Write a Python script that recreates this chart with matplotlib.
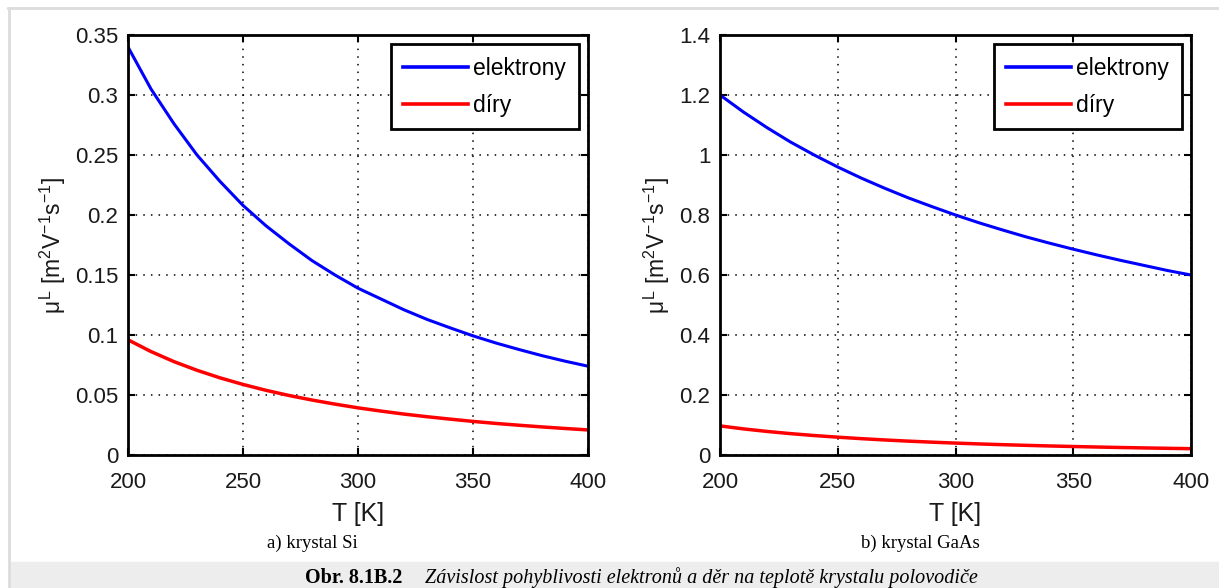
import matplotlib
matplotlib.use("Agg")
import matplotlib.pyplot as plt
from matplotlib.patches import Rectangle
from matplotlib.lines import Line2D

plt.rcParams['font.family'] = ['Liberation Sans', 'DejaVu Sans']
plt.rcParams['mathtext.fontset'] = 'custom'
plt.rcParams['mathtext.rm'] = 'Liberation Sans'
plt.rcParams['mathtext.it'] = 'Liberation Sans'

# teplota [K]
T = [200, 210, 220, 230, 240, 250, 260, 270, 280, 290, 300,
     310, 320, 330, 340, 350, 360, 370, 380, 390, 400]

# krystal Si
si_elektrony = [0.340, 0.305, 0.276, 0.250, 0.228, 0.208, 0.191, 0.176, 0.162, 0.150, 0.139,
                0.130, 0.121, 0.113, 0.106, 0.0993, 0.0933, 0.0879, 0.0828, 0.0782, 0.0740]
si_diry = [0.096, 0.0862, 0.0778, 0.0706, 0.0643, 0.0588, 0.0539, 0.0496, 0.0458, 0.0424, 0.0393,
           0.0366, 0.0341, 0.0319, 0.0299, 0.0280, 0.0263, 0.0248, 0.0234, 0.0221, 0.0209]

# krystal GaAs
gaas_elektrony = [1.200, 1.143, 1.091, 1.043, 1.000, 0.960, 0.923, 0.889, 0.857, 0.828, 0.800,
                  0.774, 0.750, 0.727, 0.706, 0.686, 0.667, 0.649, 0.632, 0.615, 0.600]
gaas_diry = [0.097, 0.0870, 0.0785, 0.0712, 0.0649, 0.0594, 0.0545, 0.0501, 0.0462, 0.0428, 0.0397,
             0.0369, 0.0344, 0.0322, 0.0301, 0.0283, 0.0266, 0.0250, 0.0236, 0.0223, 0.0211]

W, H = 1219, 588
fig = plt.figure(figsize=(W / 100, H / 100), dpi=100)


def px_axes(x0, x1, y0, y1):
    return fig.add_axes([x0 / W, 1 - y1 / H, (x1 - x0) / W, (y1 - y0) / H])


def panel(ax, el, di, yticks, ylabels):
    ax.plot(T, el, color='#0000ff', lw=2.2, label='elektrony')
    ax.plot(T, di, color='#ff0000', lw=2.5, label='díry')
    ax.set_xlim(200, 400)
    ax.set_ylim(yticks[0], yticks[-1])
    ax.set_xticks([200, 250, 300, 350, 400])
    ax.set_yticks(yticks)
    ax.set_yticklabels(ylabels)
    ax.grid(True, color='black', linestyle=(0, (1, 4)), linewidth=1.1)
    ax.tick_params(direction='in', top=True, right=True, length=5, width=1.5,
                   labelsize=16, labelcolor='#1a1a1a')
    ax.tick_params(axis='x', pad=12)
    ax.tick_params(axis='y', pad=7)
    for s in ax.spines.values():
        s.set_linewidth(2)
    ax.set_xlabel('T [K]', fontsize=18, color='#1a1a1a', labelpad=7)
    ax.set_ylabel(r'$\mu^L$ [m$^2$V$^{-1}$s$^{-1}$]', fontsize=16.5, color='#1a1a1a', labelpad=5)
    leg = ax.legend(loc='upper right', fontsize=16.5, fancybox=False, framealpha=1,
                    edgecolor='black', handlelength=2.8, handletextpad=0.25,
                    borderaxespad=0.4, labelspacing=0.6, borderpad=0.55)
    leg.get_frame().set_linewidth(2)
    for h in leg.legend_handles:
        h.set_linewidth(2.6)


ax1 = px_axes(128, 588, 35, 455)
panel(ax1, si_elektrony, si_diry, [0, 0.05, 0.1, 0.15, 0.2, 0.25, 0.3, 0.35],
      ['0', '0.05', '0.1', '0.15', '0.2', '0.25', '0.3', '0.35'])

ax2 = px_axes(720, 1191, 35, 455)
panel(ax2, gaas_elektrony, gaas_diry, [0, 0.2, 0.4, 0.6, 0.8, 1.0, 1.2, 1.4],
      ['0', '0.2', '0.4', '0.6', '0.8', '1', '1.2', '1.4'])

# ramecek a popisky
fig.patches.append(Rectangle((10 / W, 0), 1 - 10 / W, (H - 562) / H,
                             transform=fig.transFigure, color='#ededed', zorder=0))
fig.lines.append(Line2D([8 / W, 1], [1 - 7.5 / H, 1 - 7.5 / H], transform=fig.transFigure,
                        color='#dcdcdc', lw=2))
fig.lines.append(Line2D([9 / W, 9 / W], [0, 1 - 7.5 / H], transform=fig.transFigure,
                        color='#dcdcdc', lw=2))

fig.text(312 / W, 1 - 543 / H, 'a) krystal Si', family='Liberation Serif', fontsize=13.5,
         ha='center', va='center')
fig.text(920 / W, 1 - 543 / H, 'b) krystal GaAs', family='Liberation Serif', fontsize=13.5,
         ha='center', va='center')
fig.text(305 / W, 1 - 578 / H, 'Obr. 8.1B.2', family='Liberation Serif', fontsize=14.5,
         weight='bold', ha='left', va='center')
fig.text(425 / W, 1 - 578 / H,
         'Závislost pohyblivosti elektronů a děr na teplotě krystalu polovodiče',
         family='Liberation Serif', fontsize=14.5, style='italic', ha='left', va='center')

fig.savefig('out.png', dpi=100)
